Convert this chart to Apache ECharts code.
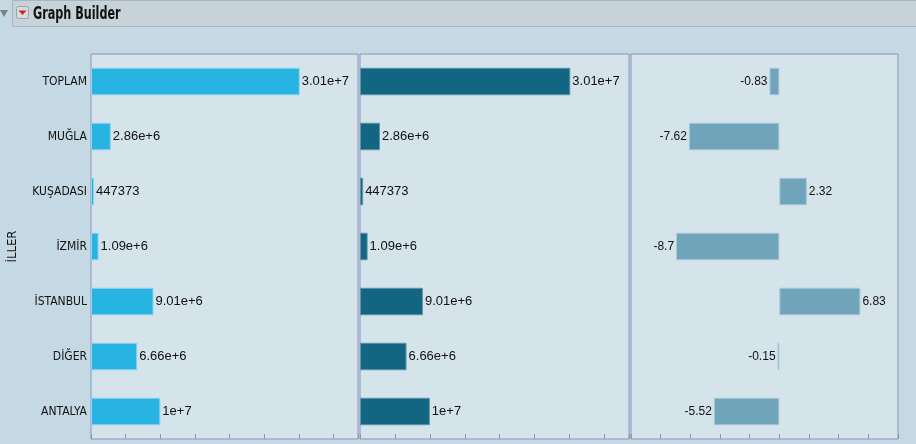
<!DOCTYPE html>
<html>
<head>
<meta charset="utf-8">
<script src="https://cdn.jsdelivr.net/npm/echarts@6/dist/echarts.min.js"></script>
<style>
  html, body { margin: 0; padding: 0; background: #c5d9e4; }
  #main { width: 916px; height: 444px; }
</style>
</head>
<body>
<div id="main"></div>
<script>
// veri
const iller = ['TOPLAM', 'MUĞLA', 'KUŞADASI', 'İZMİR', 'İSTANBUL', 'DİĞER', 'ANTALYA']
const deger1 = [30100000, 2860000, 447373, 1090000, 9010000, 6660000, 10000000]
const deger2 = [30100000, 2860000, 447373, 1090000, 9010000, 6660000, 10000000]
const degisim = [-0.83, -7.62, 2.32, -8.7, 6.83, -0.15, -5.52]

const chart = echarts.init(document.getElementById('main'))

const border = '#8e93bb'
const narrow = "'DejaVu Sans Condensed', 'Liberation Sans Narrow', sans-serif"
const sans = "'Liberation Sans', Arial, sans-serif"

function fmt(v) {
  if (v < 1e6) return String(v)
  const p = v.toPrecision(3).split('e')
  return parseFloat(p[0]) + 'e' + p[1]
}

const grids = [
  { left: 91, right: 558, top: 54, bottom: 5 },
  { left: 360, right: 287, top: 54, bottom: 5 },
  { left: 631, right: 18, top: 54, bottom: 5 }
].map(g => Object.assign(g, {
  show: true,
  backgroundColor: '#d5e3eb',
  borderColor: border,
  borderWidth: 1
}))

function xEkseni(i, min, max, interval) {
  return {
    type: 'value', gridIndex: i, min: min, max: max, interval: interval,
    axisLine: { show: false },
    axisTick: { show: true, inside: true, length: 5, lineStyle: { color: border } },
    axisLabel: { show: false },
    splitLine: { show: false }
  }
}

function yEkseni(i) {
  return {
    type: 'category', gridIndex: i, data: iller, inverse: true,
    axisLine: { show: false },
    axisTick: { show: false },
    axisLabel: {
      show: i === 0, color: '#111', fontFamily: narrow, fontSize: 12, margin: 4
    },
    name: i === 0 ? 'İLLER' : '',
    nameLocation: 'middle',
    nameGap: 72,
    nameRotate: 90,
    nameTextStyle: { color: '#111', fontFamily: narrow, fontSize: 13 }
  }
}

const option = {
  backgroundColor: '#c5d9e4',
  animation: false,
  grid: grids,
  graphic: [
    { type: 'rect', shape: { x: 12.5, y: 0.5, width: 910, height: 26 },
      style: { fill: '#c7d3d8', stroke: '#a8b6bd' } },
    { type: 'polygon', shape: { points: [[0, 10], [8, 10], [4, 17]] },
      style: { fill: '#7a8288' } },
    { type: 'rect', shape: { x: 16.5, y: 6.5, width: 12, height: 12, r: 2 },
      style: { fill: '#d4dcdf', stroke: '#9aa5ab' } },
    { type: 'polygon', shape: { points: [[18.5, 10.5], [26.5, 10.5], [22.5, 15]] },
      style: { fill: '#d0201a' } },
    { type: 'text', x: 33, y: 6, scaleX: 0.66,
      style: { text: 'Graph Builder', fill: '#111', font: "bold 17px 'DejaVu Sans', sans-serif" } }
  ],
  xAxis: [
    xEkseni(0, 0, 38500000, 5000000),
    xEkseni(1, 0, 38500000, 5000000),
    xEkseni(2, -12.5, 10, 2.5)
  ],
  yAxis: [yEkseni(0), yEkseni(1), yEkseni(2)],
  series: [
    {
      type: 'bar', xAxisIndex: 0, yAxisIndex: 0, data: deger1, barWidth: '50%',
      itemStyle: { color: '#28b4e3', borderColor: '#8ed2ec', borderWidth: 1 },
      label: { show: true, position: 'right', distance: 2, color: '#111',
        fontFamily: sans, fontSize: 13, formatter: p => fmt(p.value) }
    },
    {
      type: 'bar', xAxisIndex: 1, yAxisIndex: 1, data: deger2, barWidth: '50%',
      itemStyle: { color: '#136681', borderColor: '#5f95a9', borderWidth: 1 },
      label: { show: true, position: 'right', distance: 2, color: '#111',
        fontFamily: sans, fontSize: 13, formatter: p => fmt(p.value) }
    },
    {
      type: 'bar', xAxisIndex: 2, yAxisIndex: 2, barWidth: '50%',
      data: degisim.map(v => ({
        value: v,
        label: { position: v < 0 ? 'left' : 'right' }
      })),
      itemStyle: { color: '#6fa4bb', borderColor: '#a9c9d7', borderWidth: 1 },
      label: { show: true, distance: 2, color: '#111',
        fontFamily: sans, fontSize: 12, formatter: p => String(p.value) }
    }
  ]
}

chart.setOption(option)
</script>
</body>
</html>
